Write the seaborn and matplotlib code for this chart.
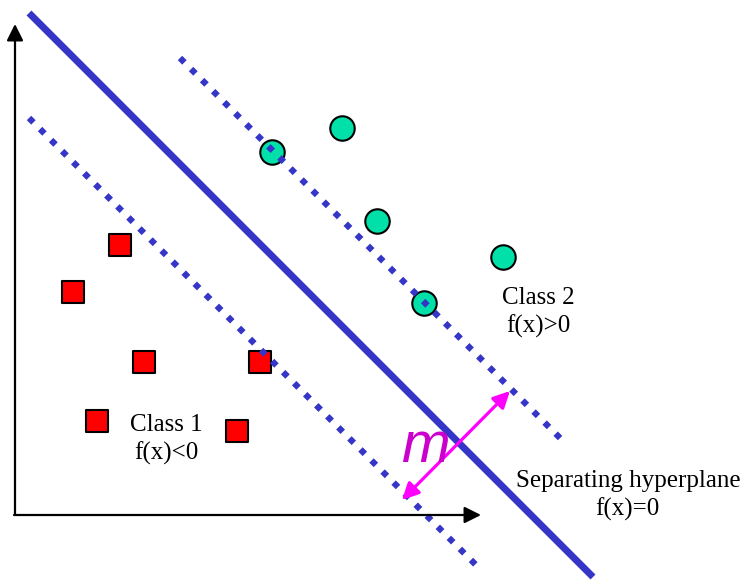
import numpy as np
import pandas as pd
import matplotlib
matplotlib.use('Agg')
import matplotlib.pyplot as plt
import seaborn as sns

# picture coordinates (pixels, y grows downward)
class1_x = [120, 73, 144, 260, 97, 237]
class1_y = [245, 292, 362, 362, 421, 431]
class2_x = [272, 342, 377, 503, 424]
class2_y = [152, 128, 221, 257, 303]

hyperplane_x = [29, 593]
hyperplane_y = [13, 577]
margin_up_x = [180, 565]
margin_up_y = [58, 443]
margin_lo_x = [29, 478]
margin_lo_y = [118, 567]

margin_arrow = [(402, 500), (510, 391)]

sns.set_theme(style="white")
plt.rcParams['font.family'] = ['Liberation Serif', 'DejaVu Serif']
plt.rcParams['text.color'] = 'black'

fig = plt.figure(figsize=(7.46, 5.81), dpi=100)
ax = fig.add_axes([0, 0, 1, 1])
ax.set_xlim(0, 746)
ax.set_ylim(581, 0)
ax.axis('off')

blue = '#3535C8'

# class points
df1 = pd.DataFrame({'x': class1_x, 'y': class1_y})
df2 = pd.DataFrame({'x': class2_x, 'y': class2_y})
sns.scatterplot(data=df1, x='x', y='y', marker='s', s=260, color='#FF0000',
                edgecolor='black', linewidth=1.5, ax=ax, zorder=2)
sns.scatterplot(data=df2, x='x', y='y', marker='o', s=310, color='#00E0A8',
                edgecolor='black', linewidth=1.5, ax=ax, zorder=2)

# hyperplane and margins
ax.plot(hyperplane_x, hyperplane_y, color=blue, lw=5, solid_capstyle='butt', zorder=3)
for xs, ys in [(margin_up_x, margin_up_y), (margin_lo_x, margin_lo_y)]:
    ax.plot(xs, ys, color=blue, lw=4.5, linestyle=(0, (1, 1.5)),
            dash_capstyle='butt', zorder=3)

# coordinate axes
ax.annotate('', xy=(15, 24), xytext=(15, 515),
            arrowprops=dict(arrowstyle='-|>', lw=1.6, color='black',
                            mutation_scale=25, shrinkA=0, shrinkB=0))
ax.annotate('', xy=(481, 515), xytext=(14, 515),
            arrowprops=dict(arrowstyle='-|>', lw=1.6, color='black',
                            mutation_scale=25, shrinkA=0, shrinkB=0))

# margin arrow
ax.annotate('', xy=margin_arrow[1], xytext=margin_arrow[0],
            arrowprops=dict(arrowstyle='<|-|>', lw=2.3, color='#FF00FF',
                            mutation_scale=25, shrinkA=0, shrinkB=0), zorder=4)
ax.text(425, 462, 'm', color='#CC00CC', fontsize=42, style='italic',
        family=['Liberation Sans', 'DejaVu Sans'], ha='center', va='baseline', zorder=5)

# labels
fs = 18
ax.text(166, 425, 'Class 1', fontsize=fs, ha='center', va='center')
ax.text(166, 453, 'f(x)<0', fontsize=fs, ha='center', va='center')
ax.text(538, 298, 'Class 2', fontsize=fs, ha='center', va='center')
ax.text(538, 326, 'f(x)>0', fontsize=fs, ha='center', va='center')
ax.text(628, 481, 'Separating hyperplane', fontsize=fs, ha='center', va='center')
ax.text(627, 509, 'f(x)=0', fontsize=fs, ha='center', va='center')

fig.savefig('out.png', dpi=100)
